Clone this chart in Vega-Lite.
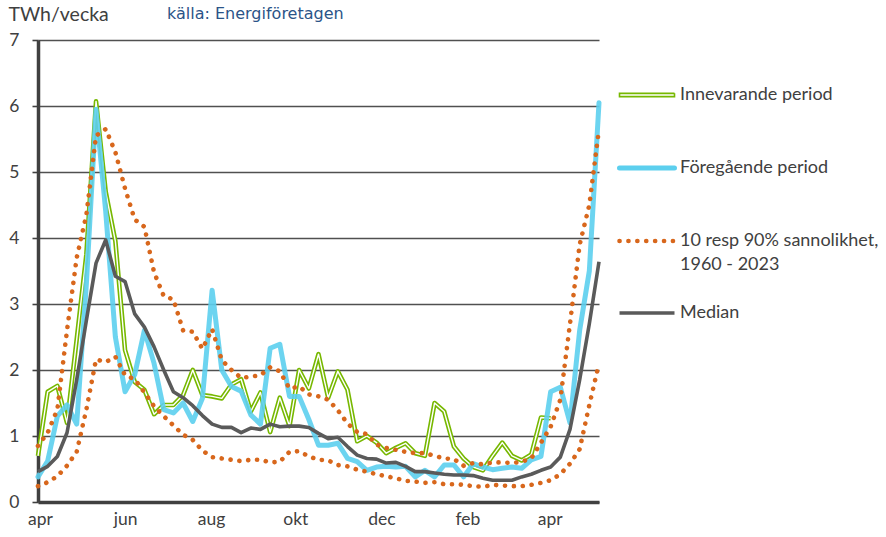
{
  "$schema": "https://vega.github.io/schema/vega-lite/v6.json",
  "width": 561,
  "height": 462,
  "autosize": {"type": "none"},
  "padding": {"left": 38, "top": 40, "right": 287, "bottom": 35},
  "background": "white",
  "config": {
    "view": {"stroke": null},
    "font": "Lato",
    "axis": {"labelFont": "Lato", "titleFont": "Lato"}
  },
  "title": {
    "text": "källa: Energiföretagen",
    "anchor": "start",
    "frame": "group",
    "dx": 129,
    "offset": 0,
    "dy": 18,
    "font": "DejaVu Sans",
    "fontSize": 16,
    "fontWeight": "normal",
    "color": "#2B5488"
  },
  "datasets": {
    "inne": [
      {"w":0,"v":0.7},{"w":1,"v":1.67},{"w":2,"v":1.76},{"w":3,"v":1.2},{"w":4,"v":2.46},{"w":5,"v":3.75},{"w":6,"v":6.07},{"w":7,"v":4.7},{"w":8,"v":3.95},{"w":9,"v":2.3},
      {"w":10,"v":1.82},{"w":11,"v":1.7},{"w":12,"v":1.33},{"w":13,"v":1.47},{"w":14,"v":1.47},{"w":15,"v":1.62},{"w":16,"v":2.0},{"w":17,"v":1.62},{"w":18,"v":1.6},{"w":19,"v":1.57},
      {"w":20,"v":1.78},{"w":21,"v":1.86},{"w":22,"v":1.37},{"w":23,"v":1.66},{"w":24,"v":1.06},{"w":25,"v":1.58},{"w":26,"v":1.15},{"w":27,"v":2.0},{"w":28,"v":1.72},{"w":29,"v":2.24},
      {"w":30,"v":1.58},{"w":31,"v":1.98},{"w":32,"v":1.7},{"w":33,"v":0.92},{"w":34,"v":1.0},{"w":35,"v":0.9},{"w":36,"v":0.74},{"w":37,"v":0.82},{"w":38,"v":0.89},{"w":39,"v":0.74},
      {"w":40,"v":0.7},{"w":41,"v":1.5},{"w":42,"v":1.37},{"w":43,"v":0.84},{"w":44,"v":0.66},{"w":45,"v":0.53},{"w":46,"v":0.48},{"w":47,"v":0.7},{"w":48,"v":0.9},{"w":49,"v":0.7},
      {"w":50,"v":0.63},{"w":51,"v":0.72},{"w":52,"v":1.28},{"w":53,"v":1.27}
    ],
    "fore": [
      {"w":0,"v":0.38},{"w":1,"v":0.62},{"w":2,"v":1.3},{"w":3,"v":1.47},{"w":4,"v":1.18},{"w":5,"v":3.3},{"w":6,"v":5.95},{"w":7,"v":4.4},{"w":8,"v":2.5},{"w":9,"v":1.67},
      {"w":10,"v":1.93},{"w":11,"v":2.6},{"w":12,"v":2.1},{"w":13,"v":1.4},{"w":14,"v":1.35},{"w":15,"v":1.5},{"w":16,"v":1.22},{"w":17,"v":1.57},{"w":18,"v":3.21},{"w":19,"v":2.0},
      {"w":20,"v":1.75},{"w":21,"v":1.68},{"w":22,"v":1.32},{"w":23,"v":1.18},{"w":24,"v":2.33},{"w":25,"v":2.39},{"w":26,"v":1.6},{"w":27,"v":1.6},{"w":28,"v":1.25},{"w":29,"v":0.86},
      {"w":30,"v":0.86},{"w":31,"v":0.89},{"w":32,"v":0.66},{"w":33,"v":0.61},{"w":34,"v":0.48},{"w":35,"v":0.53},{"w":36,"v":0.54},{"w":37,"v":0.53},{"w":38,"v":0.54},{"w":39,"v":0.38},
      {"w":40,"v":0.48},{"w":41,"v":0.38},{"w":42,"v":0.56},{"w":43,"v":0.56},{"w":44,"v":0.38},{"w":45,"v":0.58},{"w":46,"v":0.53},{"w":47,"v":0.49},{"w":48,"v":0.51},{"w":49,"v":0.53},
      {"w":50,"v":0.51},{"w":51,"v":0.64},{"w":52,"v":0.69},{"w":53,"v":1.67},{"w":54,"v":1.74},{"w":55,"v":1.2},{"w":56,"v":2.6},{"w":57,"v":3.5},{"w":58,"v":6.05}
    ],
    "p90": [
      {"w":0,"v":0.85},{"w":1,"v":1.05},{"w":2,"v":1.4},{"w":3,"v":2.6},{"w":4,"v":3.7},{"w":5,"v":4.35},{"w":6,"v":5.55},{"w":7,"v":5.65},{"w":8,"v":5.3},{"w":9,"v":4.75},
      {"w":10,"v":4.28},{"w":11,"v":4.17},{"w":12,"v":3.48},{"w":13,"v":3.12},{"w":14,"v":3.07},{"w":15,"v":2.6},{"w":16,"v":2.58},{"w":17,"v":2.32},{"w":18,"v":2.62},{"w":19,"v":2.15},
      {"w":20,"v":2.0},{"w":21,"v":1.88},{"w":22,"v":1.9},{"w":23,"v":1.92},{"w":24,"v":2.04},{"w":25,"v":1.98},{"w":26,"v":1.72},{"w":27,"v":1.75},{"w":28,"v":1.63},{"w":29,"v":1.6},
      {"w":30,"v":1.55},{"w":31,"v":1.39},{"w":32,"v":1.19},{"w":33,"v":1.06},{"w":34,"v":1.03},{"w":35,"v":0.87},{"w":36,"v":0.82},{"w":37,"v":0.79},{"w":38,"v":0.76},{"w":39,"v":0.74},
      {"w":40,"v":0.74},{"w":41,"v":0.7},{"w":42,"v":0.66},{"w":43,"v":0.65},{"w":44,"v":0.55},{"w":45,"v":0.59},{"w":46,"v":0.57},{"w":47,"v":0.6},{"w":48,"v":0.6},{"w":49,"v":0.59},
      {"w":50,"v":0.61},{"w":51,"v":0.66},{"w":52,"v":0.9},{"w":53,"v":1.14},{"w":54,"v":1.55},{"w":55,"v":2.7},{"w":56,"v":3.9},{"w":57,"v":4.5},{"w":58,"v":5.65}
    ],
    "p10": [
      {"w":0,"v":0.24},{"w":1,"v":0.3},{"w":2,"v":0.39},{"w":3,"v":0.55},{"w":4,"v":0.76},{"w":5,"v":1.4},{"w":6,"v":2.16},{"w":7,"v":2.12},{"w":8,"v":2.2},{"w":9,"v":1.92},
      {"w":10,"v":1.86},{"w":11,"v":1.66},{"w":12,"v":1.45},{"w":13,"v":1.3},{"w":14,"v":1.16},{"w":15,"v":1.02},{"w":16,"v":0.94},{"w":17,"v":0.78},{"w":18,"v":0.68},{"w":19,"v":0.66},
      {"w":20,"v":0.64},{"w":21,"v":0.62},{"w":22,"v":0.64},{"w":23,"v":0.64},{"w":24,"v":0.6},{"w":25,"v":0.61},{"w":26,"v":0.76},{"w":27,"v":0.77},{"w":28,"v":0.69},{"w":29,"v":0.64},
      {"w":30,"v":0.63},{"w":31,"v":0.56},{"w":32,"v":0.54},{"w":33,"v":0.49},{"w":34,"v":0.46},{"w":35,"v":0.42},{"w":36,"v":0.39},{"w":37,"v":0.36},{"w":38,"v":0.32},{"w":39,"v":0.31},
      {"w":40,"v":0.29},{"w":41,"v":0.3},{"w":42,"v":0.27},{"w":43,"v":0.27},{"w":44,"v":0.26},{"w":45,"v":0.24},{"w":46,"v":0.23},{"w":47,"v":0.26},{"w":48,"v":0.25},{"w":49,"v":0.24},
      {"w":50,"v":0.24},{"w":51,"v":0.26},{"w":52,"v":0.29},{"w":53,"v":0.33},{"w":54,"v":0.42},{"w":55,"v":0.58},{"w":56,"v":0.8},{"w":57,"v":1.47},{"w":58,"v":2.1}
    ],
    "median": [
      {"w":0,"v":0.46},{"w":1,"v":0.54},{"w":2,"v":0.69},{"w":3,"v":1.05},{"w":4,"v":1.85},{"w":5,"v":2.75},{"w":6,"v":3.62},{"w":7,"v":3.97},{"w":8,"v":3.42},{"w":9,"v":3.34},
      {"w":10,"v":2.85},{"w":11,"v":2.65},{"w":12,"v":2.35},{"w":13,"v":2.0},{"w":14,"v":1.67},{"w":15,"v":1.58},{"w":16,"v":1.46},{"w":17,"v":1.31},{"w":18,"v":1.18},{"w":19,"v":1.13},
      {"w":20,"v":1.13},{"w":21,"v":1.05},{"w":22,"v":1.12},{"w":23,"v":1.1},{"w":24,"v":1.18},{"w":25,"v":1.14},{"w":26,"v":1.15},{"w":27,"v":1.15},{"w":28,"v":1.13},{"w":29,"v":1.04},
      {"w":30,"v":0.96},{"w":31,"v":0.98},{"w":32,"v":0.84},{"w":33,"v":0.71},{"w":34,"v":0.66},{"w":35,"v":0.65},{"w":36,"v":0.59},{"w":37,"v":0.6},{"w":38,"v":0.54},{"w":39,"v":0.46},
      {"w":40,"v":0.46},{"w":41,"v":0.44},{"w":42,"v":0.42},{"w":43,"v":0.41},{"w":44,"v":0.41},{"w":45,"v":0.4},{"w":46,"v":0.36},{"w":47,"v":0.33},{"w":48,"v":0.33},{"w":49,"v":0.33},
      {"w":50,"v":0.38},{"w":51,"v":0.42},{"w":52,"v":0.48},{"w":53,"v":0.53},{"w":54,"v":0.68},{"w":55,"v":1.1},{"w":56,"v":1.85},{"w":57,"v":2.7},{"w":58,"v":3.64}
    ]
  },
  "encoding": {
    "x": {
      "field": "w",
      "type": "quantitative",
      "scale": {"domain": [0, 58], "nice": false, "zero": false},
      "axis": {
        "title": null,
        "grid": false,
        "ticks": false,
        "values": [0.2, 9.0, 17.9, 26.6, 35.5, 44.4, 52.9],
        "labelExpr": "datum.value < 5 ? 'apr' : datum.value < 13 ? 'jun' : datum.value < 22 ? 'aug' : datum.value < 31 ? 'okt' : datum.value < 40 ? 'dec' : datum.value < 48 ? 'feb' : 'apr'",
        "labelFontSize": 17.5,
        "labelColor": "#404040",
        "labelPadding": 8,
        "labelFlush": false,
        "domainColor": "#404040",
        "domainWidth": 3.5
      }
    },
    "y": {
      "field": "v",
      "type": "quantitative",
      "scale": {"domain": [0, 7], "nice": false},
      "axis": {
        "values": [0, 1, 2, 3, 4, 5, 6, 7],
        "format": "d",
        "grid": true,
        "gridColor": "#505050",
        "gridWidth": 1.6,
        "domainColor": "#404040",
        "domainWidth": 3.5,
        "tickColor": "#404040",
        "tickSize": 6,
        "tickWidth": 1.6,
        "labelFontSize": 17.5,
        "labelColor": "#404040",
        "labelPadding": 13,
        "title": "TWh/vecka",
        "titleAngle": 0,
        "titleAlign": "left",
        "titleBaseline": "alphabetic",
        "titleX": -30,
        "titleY": -20,
        "titleFontSize": 19.5,
        "titleFontWeight": "normal",
        "titleColor": "#404040"
      }
    }
  },
  "layer": [
    {
      "data": {"name": "inne"},
      "mark": {"type": "line", "strokeWidth": 4.6, "strokeJoin": "round"},
      "encoding": {
        "color": {
          "datum": "Innevarande period",
          "type": "nominal",
          "scale": {
            "domain": ["Innevarande period", "Föregående period", "10 resp 90% sannolikhet, 1960 - 2023", "Median"],
            "range": ["#77B800", "#5CCFEE", "#D8671C", "#5A5A5A"]
          },
          "legend": {
            "orient": "none",
            "legendX": 582,
            "legendY": 46,
            "title": null,
            "padding": 0,
            "symbolType": "stroke",
            "symbolSize": 3025,
            "symbolOffset": 18,
            "labelFont": "Lato",
            "labelFontSize": 18,
            "labelColor": "#404040",
            "labelOffset": 24,
            "labelLimit": 300,
            "rowPadding": 30,
            "labelExpr": "datum.label == '10 resp 90% sannolikhet, 1960 - 2023' ? ['10 resp 90% sannolikhet,', '1960 - 2023'] : [datum.label, '']",
            "encode": {
              "symbols": {
                "update": {
                  "shape": {"signal": "datum.value == 'Innevarande period' ? 'M-1,-0.06H1V0.06H-1Z' : 'stroke'"},
                  "fill": {"signal": "datum.value == 'Innevarande period' ? 'white' : 'transparent'"},
                  "strokeWidth": {"signal": "datum.value == 'Innevarande period' ? 1.6 : datum.value == 'Föregående period' ? 5 : datum.value == 'Median' ? 3.5 : 4.6"},
                  "strokeDash": {"signal": "datum.value == '10 resp 90% sannolikhet, 1960 - 2023' ? [0.1, 8.8] : [1, 0]"},
                  "strokeCap": {"signal": "datum.value == '10 resp 90% sannolikhet, 1960 - 2023' || datum.value == 'Föregående period' ? 'round' : 'butt'"},
                  "opacity": {"value": 1}
                }
              },
              "labels": {
                "update": {"lineHeight": {"value": 24}}
              }
            }
          }
        }
      }
    },
    {
      "data": {"name": "inne"},
      "mark": {"type": "line", "strokeWidth": 1.4, "color": "white", "strokeJoin": "round"},
      "encoding": {}
    },
    {
      "data": {"name": "fore"},
      "mark": {"type": "line", "strokeWidth": 5, "opacity": 0.9, "strokeJoin": "round", "strokeCap": "round"},
      "encoding": {"color": {"datum": "Föregående period", "type": "nominal"}}
    },
    {
      "data": {"name": "p90"},
      "mark": {"type": "line", "strokeWidth": 4.6, "strokeDash": [0.1, 8.8], "strokeCap": "round"},
      "encoding": {"color": {"datum": "10 resp 90% sannolikhet, 1960 - 2023", "type": "nominal"}}
    },
    {
      "data": {"name": "p10"},
      "mark": {"type": "line", "strokeWidth": 4.6, "strokeDash": [0.1, 8.8], "strokeCap": "round"},
      "encoding": {"color": {"datum": "10 resp 90% sannolikhet, 1960 - 2023", "type": "nominal"}}
    },
    {
      "data": {"name": "median"},
      "mark": {"type": "line", "strokeWidth": 3.6, "strokeJoin": "round"},
      "encoding": {"color": {"datum": "Median", "type": "nominal"}}
    }
  ]
}
